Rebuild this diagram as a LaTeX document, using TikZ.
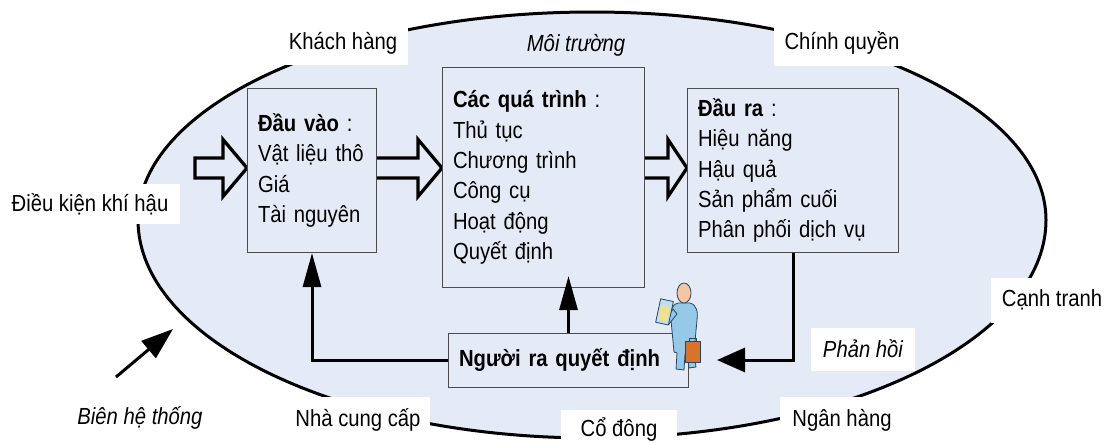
\documentclass[tikz,border=0pt]{standalone}
\usepackage{fontspec}
\setmainfont{Liberation Sans}[FakeStretch=0.87]
\usetikzlibrary{arrows.meta,calc}
\definecolor{sysfill}{RGB}{229,235,246}
\definecolor{coat}{RGB}{150,200,232}
\definecolor{coatline}{RGB}{40,70,95}
\definecolor{skin}{RGB}{243,198,165}
\definecolor{case}{RGB}{214,116,44}
\definecolor{pad}{RGB}{190,222,244}
\definecolor{padscreen}{RGB}{240,226,140}
\tikzset{
  sysbox/.style={draw=black!70, line width=1pt, fill=sysfill, anchor=north west,
    inner xsep=10.5pt, inner ysep=0pt, align=left},
  envlabel/.style={fill=white, inner xsep=11pt, inner ysep=0pt, minimum height=44pt},
  hollow/.style={draw=black, line width=3.3pt, fill=sysfill, line join=miter},
  feedback/.style={line width=3pt, -{Triangle[length=34pt,width=18pt]}},
  feedbackh/.style={line width=3pt, -{Triangle[length=28pt,width=24pt]}},
}
% block arrow: tail x, head base x, tip x, centre y
\newcommand{\hollowarrow}[4]{%
  \filldraw[hollow] (#1,#4+10) -- (#2,#4+10) -- (#2,#4+28.5) -- (#3,#4)
    -- (#2,#4-28.5) -- (#2,#4-10) -- (#1,#4-10) -- cycle;}
\begin{document}
\begin{tikzpicture}[x=1pt, y=1pt, font=\fontsize{23.3}{30.3}\selectfont]
\fill[white] (0,0) rectangle (1110,-442);
\useasboundingbox (0,0) rectangle (1110,-442);

% system boundary
\filldraw[fill=sysfill, line width=3pt]
  (138,-220) arc[start angle=180, end angle=0, x radius=454pt, y radius=208pt]
  arc[start angle=0, end angle=-180, x radius=454pt, y radius=218pt] -- cycle;

% flow arrows
\hollowarrow{195}{223}{247}{-168}
\hollowarrow{370}{418}{442}{-168}
\hollowarrow{640}{668}{687}{-168}

% input / process / output boxes
\node[sysbox, minimum width=129pt, minimum height=164pt, text width=108pt] (b1) at (247,-88)
  {{\bfseries Đầu vào} :\\Vật liệu thô\\Giá\\Tài nguyên};
\node[sysbox, minimum width=202pt, minimum height=220pt, text width=181pt] (b2) at (442,-67)
  {{\bfseries Các quá trình} :\\Thủ tục\\Chương trình\\Công cụ\\Hoạt động\\Quyết định};
\node[sysbox, minimum width=211pt, minimum height=164pt, text width=190pt] (b3) at (687,-88)
  {{\bfseries Đầu ra} :\\Hiệu năng\\Hậu quả\\Sản phẩm cuối\\Phân phối dịch vụ};
\node[sysbox, minimum width=240pt, minimum height=54pt, text width=219pt, inner xsep=10.5pt] (dm) at (448,-333)
  {\bfseries Người ra quyết định};

% feedback loops
\coordinate (fbtip) at (717,-360);
\draw[feedback] (dm.west) -| (b1.south);
\draw[feedback] (dm.north) -- ($(b2.south -| dm.north)+(0,12)$);
\draw[feedbackh] (b3.south) |- (fbtip);

% environment
\node[envlabel, minimum height=43pt] (khach) at (343,-43) {Khách hàng};
\node[font=\fontsize{23.3}{30.3}\selectfont\itshape] (moi) at (576,-45) {Môi trường};
\node[envlabel, minimum height=46pt] (chinh) at (842,-43) {Chính quyền};
\node[envlabel, minimum height=40pt, inner xsep=11.5pt] (dieu) at (90,-204) {Điều kiện khí hậu};
\node[envlabel, minimum height=45pt] (canh) at (1052,-300) {Cạnh tranh};
\node[envlabel, minimum height=43pt, inner xsep=12pt, font=\fontsize{23.3}{30.3}\selectfont\itshape] (phan) at (863,-349) {Phản hồi};
\node[envlabel, minimum height=46pt, inner xsep=12pt] (ngan) at (842,-420) {Ngân hàng};
\node[envlabel, minimum height=40pt, inner xsep=20pt] (codong) at (619,-430) {Cổ đông};
\node[envlabel, minimum height=46pt, inner xsep=9pt] (nhacc) at (358,-420) {Nhà cung cấp};
\node[font=\fontsize{23.3}{30.3}\selectfont\itshape] (bien) at (140,-418) {Biên hệ thống};

% boundary pointer
\coordinate (bientail) at (116,-377);
\coordinate (bientip) at (173,-329);
\draw[line width=3pt, -{Triangle[length=32pt,width=22pt]}] (bientail) -- (bientip);

% decision maker figure
\begin{scope}[draw=coatline, line width=0.8pt, line join=round]
  \filldraw[fill=coat] (678,-303) .. controls (671,-305) and (670,-312) .. (671,-320)
    -- (674,-352) -- (677,-353) -- (676,-369) -- (684,-370) -- (685,-354) -- (687,-354)
    -- (689,-368) -- (696,-367) -- (694,-352) -- (697,-320)
    .. controls (698,-312) and (697,-305) .. (690,-303) -- cycle;
  \filldraw[fill=coat] (673,-309) -- (666,-321) -- (669,-324) -- (677,-314) -- cycle;
  \filldraw[fill=pad, rotate around={-12:(665,-312)}] (658,-300) rectangle (671,-324);
  \filldraw[fill=padscreen, draw=none, rotate around={-12:(665,-312)}] (660,-306) rectangle (669,-321);
  \filldraw[fill=case] (685,-341) rectangle (700,-362);
  \draw (689,-341) -- (689,-338) -- (696,-338) -- (696,-341);
  \filldraw[fill=skin] (684,-293) ellipse[x radius=7pt, y radius=10pt];
\end{scope}
\end{tikzpicture}
\end{document}
